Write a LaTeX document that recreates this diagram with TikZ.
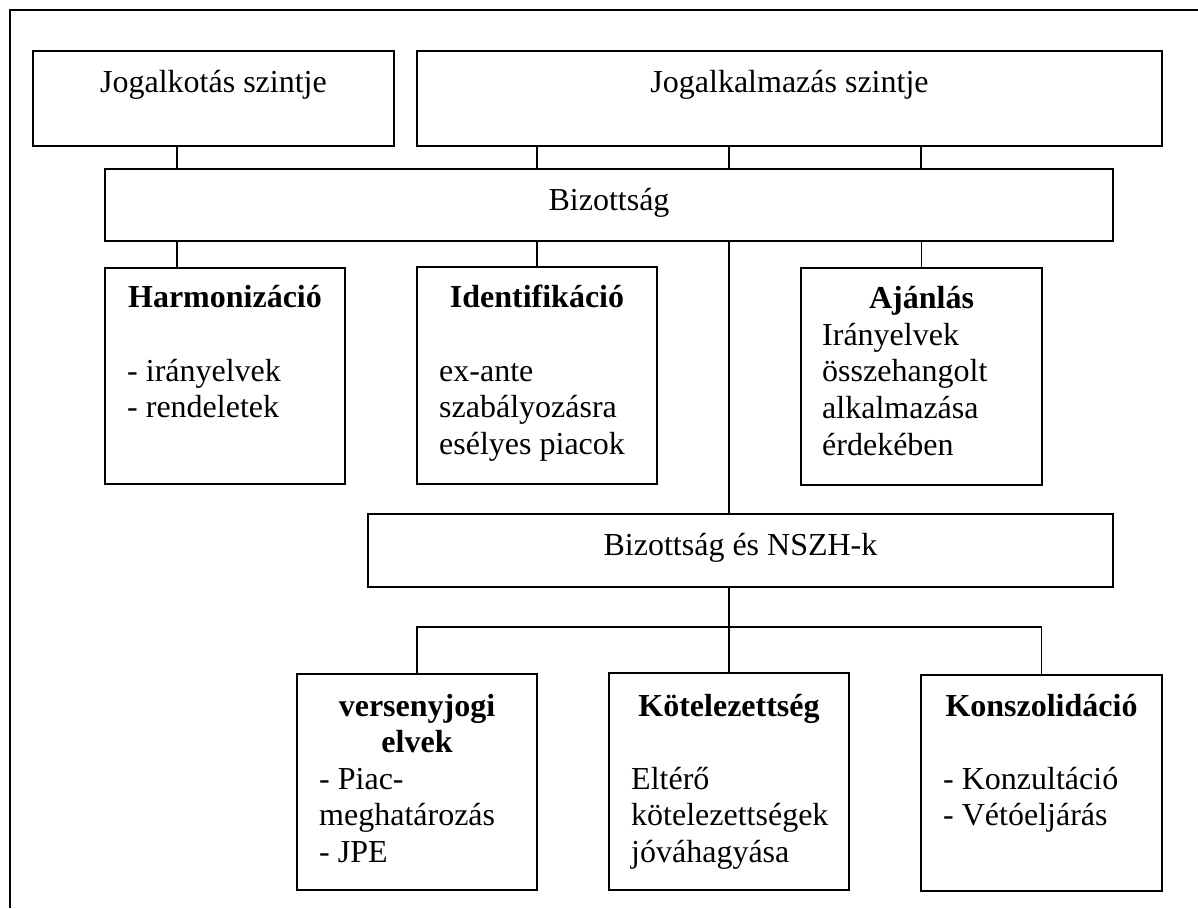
\documentclass[tikz,border=0pt]{standalone}
\usepackage{fontspec}
\setmainfont{Liberation Serif}
\begin{document}
\begin{tikzpicture}[x=1pt,y=-1pt,
  box/.style={draw, line width=2pt, inner sep=0pt},
  link/.style={line width=1.6pt},
  frame/.style={line width=2pt},
  head/.style={font=\fontsize{32}{36.7}\selectfont, anchor=base, inner sep=0pt},
  title/.style={font=\fontsize{32}{36.7}\selectfont\bfseries, anchor=base, inner sep=0pt},
  titles/.style={font=\fontsize{32}{36.7}\selectfont\bfseries, anchor=north, yshift=25.69pt, inner sep=0pt, align=center},
  body/.style={font=\fontsize{32}{36.7}\selectfont, anchor=north west, yshift=25.69pt, inner sep=0pt, align=left},
]
\useasboundingbox (0,0) rectangle (1198,908);

% open outer frame: top and left sides
\draw[frame] (10,908) -- (10,10) -- (1198,10);

% boxes
\node[box, minimum width=361pt, minimum height=95pt] (jalk) at (213.5,98.5) {};
\node[box, minimum width=745pt, minimum height=95pt] (jalm) at (789.5,98.5) {};
\node[box, minimum width=1008pt, minimum height=72pt] (biz) at (609,205) {};
\node[box, minimum width=240pt, minimum height=216pt] (harm) at (225,375.5) {};
\node[box, minimum width=240pt, minimum height=217pt] (ident) at (537,375.5) {};
\node[box, minimum width=241pt, minimum height=217pt] (ajan) at (921.5,376.5) {};
\node[box, minimum width=745pt, minimum height=73pt] (nszh) at (740.5,550.5) {};
\node[box, minimum width=240pt, minimum height=216pt] (vers) at (417,782) {};
\node[box, minimum width=240pt, minimum height=217pt] (kot) at (729,781.5) {};
\node[box, minimum width=241pt, minimum height=216pt] (kon) at (1041.5,783) {};

% texts
\node[head] (tjalk) at (213.5,92) {Jogalkotás szintje};
\node[head] (tjalm) at (789.5,92) {Jogalkalmazás szintje};
\node[head] (tbiz) at (609,210) {Bizottság};

\node[title] (tharm) at (225,307) {Harmonizáció};
\node[body] (bharm) at (127,381) {\strut- irányelvek\\\strut- rendeletek};

\node[title] (tident) at (537,307) {Identifikáció};
\node[body] (bident) at (439,381) {\strut ex-ante\\\strut szabályozásra\\\strut esélyes piacok};

\node[title] (tajan) at (921.5,308) {Ajánlás};
\node[body] (bajan) at (822,345) {\strut Irányelvek\\\strut összehangolt\\\strut alkalmazása\\\strut érdekében};

\node[head] (tnszh) at (740.5,555) {Bizottság és NSZH-k};

\node[titles] (tvers) at (417,716) {\strut versenyjogi\\\strut elvek};
\node[body] (bvers) at (319,789) {\strut- Piac-\\\strut meghatározás\\\strut- JPE};

\node[title] (tkot) at (729,716) {Kötelezettség};
\node[body] (bkot) at (631,789) {\strut Eltérő\\\strut kötelezettségek\\\strut jóváhagyása};

\node[title] (tkon) at (1041.5,716) {Konszolidáció};
\node[body] (bkon) at (943,789) {\strut- Konzultáció\\\strut- Vétóeljárás};

% connector positions
\coordinate (xa) at (177,0);
\coordinate (xb) at (537,0);
\coordinate (xc) at (729,0);
\coordinate (xd) at (921,0);
\coordinate (bus) at (0,627);

\draw[link] (jalk.south -| xa) -- (biz.north -| xa);
\draw[link] (jalm.south -| xb) -- (biz.north -| xb);
\draw[link] (jalm.south -| xc) -- (biz.north -| xc);
\draw[link] (jalm.south -| xd) -- (biz.north -| xd);

\draw[link] (biz.south -| xa) -- (harm.north -| xa);
\draw[link] (biz.south -| ident) -- (ident.north);
\draw[link] (biz.south -| xc) -- (nszh.north -| xc);
\draw[link] (biz.south -| ajan) -- (ajan.north);

\draw[link] (nszh.south -| kot) -- (bus -| kot);
\draw[link] (vers.north) -- (bus -| vers) -- (bus -| kon) -- (kon.north);
\draw[link] (bus -| kot) -- (kot.north);
\end{tikzpicture}
\end{document}
